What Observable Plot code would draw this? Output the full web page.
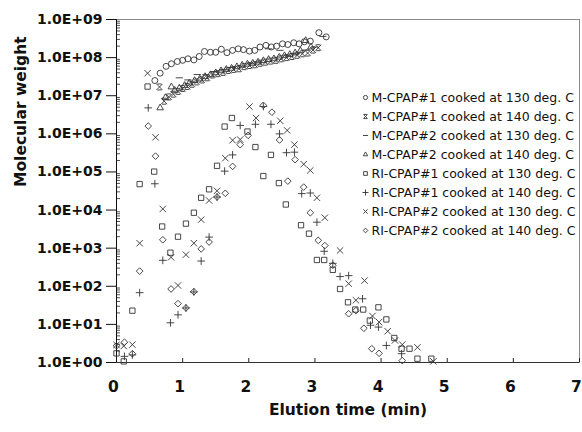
<!DOCTYPE html>
<html><head><meta charset="utf-8">
<script src="https://cdn.jsdelivr.net/npm/d3@7"></script>
<script src="https://cdn.jsdelivr.net/npm/@observablehq/plot@0.6"></script>
<style>body{margin:0;background:#fff}#chart{width:582px;height:432px}</style>
</head><body><div id="chart"></div>
<script>
// ---- tick values ----
const xTicks = [0, 1, 2, 3, 4, 5, 6, 7];
const yTicks = [1, 1e1, 1e2, 1e3, 1e4, 1e5, 1e6, 1e7, 1e8, 1e9];
const minorMultipliers = [2, 3, 4, 5, 6, 7, 8, 9];

// ---- legend labels ----
const legendLabels = [
  "M-CPAP#1 cooked at 130 deg. C",
  "M-CPAP#1 cooked at 140 deg. C",
  "M-CPAP#2 cooked at 130 deg. C",
  "M-CPAP#2 cooked at 140 deg. C",
  "RI-CPAP#1 cooked at 130 deg. C",
  "RI-CPAP#1 cooked at 140 deg. C",
  "RI-CPAP#2 cooked at 130 deg. C",
  "RI-CPAP#2 cooked at 140 deg. C"
];

// ---- series: elution time (min) and molecular weight ----
const m1_130_x = [0.58,0.66,0.75,0.83,0.92,1.00,1.08,1.17,1.25,1.33,1.42,1.50,1.585,1.67,1.755,1.84,1.92,2.01,2.09,2.17,2.26,2.34,2.42,2.51,2.59,2.68,2.76,2.84,2.93,3.06,3.17];
const m1_130_y = [2.5e7,3.9e7,5.9e7,6.9e7,7.9e7,8.5e7,9.3e7,8.7e7,1.07e8,1.45e8,1.38e8,1.38e8,1.66e8,1.35e8,1.55e8,1.7e8,1.62e8,1.48e8,1.55e8,1.9e8,2.1e8,1.9e8,2.0e8,2.3e8,2.2e8,2.45e8,2.3e8,2.6e8,2.7e8,4.5e8,3.5e8];

const m1_140_x = [0.65,0.72,0.79,0.86,0.93,1.00,1.07,1.14,1.21,1.29,1.37,1.45,1.53,1.61,1.69,1.77,1.85,1.93,2.01,2.09,2.17,2.25,2.33,2.41,2.49,2.57,2.65,2.73,2.81,2.89,2.97,3.05];
const m1_140_y = [1.7e7,7.2e6,9.3e6,1.1e7,1.3e7,1.55e7,1.75e7,2.0e7,2.3e7,2.6e7,2.95e7,3.5e7,3.8e7,4.1e7,4.6e7,4.9e7,5.1e7,5.8e7,6.2e7,6.5e7,7.1e7,7.6e7,8.1e7,8.5e7,9.3e7,1.0e8,1.07e8,1.15e8,1.26e8,1.32e8,1.58e8,1.82e8];

const m2_130_x = [0.95,1.08,1.22,1.35,1.48,1.62,1.75,1.88,2.02,2.15,2.30,2.47,2.58,2.72,2.86,3.00,3.12];
const m2_130_y = [2.95e7,2.6e7,3.6e7,3.55e7,4.3e7,4.8e7,5.5e7,6.0e7,6.9e7,7.6e7,1.7e8,1.55e8,1.15e8,1.26e8,1.58e8,1.9e8,3.6e8];

const m2_140_x = [0.66,0.74,0.83,0.88,0.95,1.03,1.10,1.18,1.26,1.34,1.42,1.50,1.58,1.66,1.74,1.82,1.90,1.98,2.06,2.14,2.22,2.30,2.38,2.46,2.54,2.62,2.70,2.78,2.86,2.94];
const m2_140_y = [4.8e6,8.9e6,1.7e7,1.38e7,1.58e7,1.86e7,2.14e7,2.5e7,2.75e7,3.16e7,3.55e7,4.0e7,4.5e7,4.9e7,5.25e7,5.75e7,6.3e7,6.75e7,7.1e7,7.6e7,8.3e7,8.9e7,9.3e7,1.02e8,1.12e8,1.2e8,1.32e8,1.51e8,2.8e8,1.9e8];

const ri1_130_x = [0.00,0.11,0.24,0.35,0.47,0.57,0.69,0.815,0.93,1.05,1.17,1.28,1.40,1.52,1.635,1.745,1.98,2.10,2.22,2.335,2.455,2.56,2.79,2.91,3.03,3.14,3.27,3.38,3.50,3.61,3.73,3.83,3.96,4.08,4.20,4.31,4.43,4.55,4.76];
const ri1_130_y = [1.74,1.07,22.9,4.8e4,1.74e7,1.02e5,3.7e3,760,2.0e3,4.4e3,8.5e3,2.1e4,3.5e4,1.45e5,1.55e6,2.6e6,1.15e6,4.5e5,7.8e4,2.8e5,5.1e4,1.4e4,4.0e3,2.4e3,490,490,270,85,38,24.5,24.5,12.6,28,13.5,4.4,2.3,2.3,1.26,1.26];

const ri1_140_x = [0.12,0.24,0.35,0.48,0.58,0.70,0.815,0.93,1.05,1.17,1.28,1.40,1.52,1.635,1.755,1.87,2.10,2.22,2.335,2.465,2.57,2.69,2.80,2.93,3.03,3.14,3.27,3.38,3.51,3.72,3.84,3.96,4.08,4.31];
const ri1_140_y = [1.45,1.58,68,4.8e6,4.9e4,480,11,17.8,27,71,460,1.95e3,2.2e4,1.05e5,2.8e5,1.66e6,1.78e6,5.2e6,1.78e6,1.0e6,3.2e5,3.3e5,2.7e4,2.8e4,4.8e3,830,400,180,190,47,9.5,8.5,2.8,1.7];

const ri2_130_x = [0.00,0.11,0.24,0.35,0.47,0.59,0.70,0.825,0.93,1.05,1.17,1.28,1.40,1.52,1.645,1.755,1.87,2.01,2.11,2.475,2.58,2.69,2.83,2.93,3.03,3.15,3.38,3.51,3.62,3.75,3.87,3.97,4.10,4.21,4.32,4.55,4.79];
const ri2_130_y = [2.9,2.7,2.95,1.35e3,3.9e7,8.1e5,1.07e4,575,105,675,1.35e3,5.6e3,1.78e4,3.2e4,2.3e5,6.8e5,7.1e5,5.2e6,2.6e6,2.2e6,1.23e6,5.2e5,1.6e5,1.1e5,2.1e4,6.3e3,870,117,43,141,16.6,11.5,6.6,3.8,2.95,2.5,1.07];

const ri2_140_x = [0.00,0.12,0.24,0.35,0.48,0.59,0.70,0.825,0.93,1.05,1.17,1.28,1.40,1.52,1.645,1.755,1.87,1.99,2.22,2.35,2.465,2.59,2.70,2.83,2.93,3.05,3.15,3.27,3.51,3.62,3.74,3.86,3.97,4.32];
const ri2_140_y = [2.75,3.4,1.7,250,1.6e6,2.6e5,1.66e3,85,35,27,72,955,1.45e3,2.2e4,2.75e4,1.4e5,5.2e5,9.1e5,5.6e6,3.7e6,6.9e5,5.75e4,2.1e5,4.0e4,8.5e3,1.6e3,1.17e3,355,19,23,7.9,2.3,1.74,1.12];

// ---- custom marker shapes ----
const symTimesBar = {draw(ctx, size) {
  const r = Math.sqrt(size / Math.PI);
  ctx.moveTo(-r, -r); ctx.lineTo(r, r);
  ctx.moveTo(r, -r); ctx.lineTo(-r, r);
  ctx.moveTo(-r * 0.7, -r); ctx.lineTo(r * 0.7, -r);
  ctx.moveTo(-r * 0.7, r); ctx.lineTo(r * 0.7, r);
}};
const symDash = {draw(ctx, size) {
  const r = Math.sqrt(size / Math.PI) * 1.2;
  ctx.moveTo(-r, 0); ctx.lineTo(r, 0);
}};

const series = [
  {x: m1_130_x, y: m1_130_y, symbol: "circle", r: 3},
  {x: m1_140_x, y: m1_140_y, symbol: symTimesBar, r: 3},
  {x: m2_130_x, y: m2_130_y, symbol: symDash, r: 3},
  {x: m2_140_x, y: m2_140_y, symbol: "triangle2", r: 3.2},
  {x: ri1_130_x, y: ri1_130_y, symbol: "square", r: 3},
  {x: ri1_140_x, y: ri1_140_y, symbol: "plus", r: 2.6},
  {x: ri2_130_x, y: ri2_130_y, symbol: "times", r: 3},
  {x: ri2_140_x, y: ri2_140_y, symbol: "diamond2", r: 3}
];

const minorTicks = yTicks.slice(0, -1).flatMap(p => minorMultipliers.map(m => m * p));
const fmtY = d => "1.0E+" + String(Math.round(Math.log10(d))).padStart(2, "0");
const fmtX = d => String(d);

const marks = [
  Plot.frame({stroke: "#8a8a8a"}),
  Plot.tickY(minorTicks, {y: d => d, insetRight: 459, stroke: "#222", strokeWidth: 0.8}),
  Plot.tickX(xTicks, {x: d => d, insetTop: 339, stroke: "#222"}),
  Plot.axisY({ticks: yTicks, tickFormat: fmtY, tickSize: 10, tickPadding: 4, fontSize: 14, label: null}),
  Plot.axisX({ticks: xTicks, tickFormat: fmtX, tickSize: 0, tickPadding: 18, fontSize: 15.5, label: null, dx: -3}),
  Plot.ruleX([0], {stroke: "#111"}),
  Plot.ruleY([1], {stroke: "#333"})
];

series.forEach(s => {
  marks.push(Plot.dot(s.x, {x: s.x, y: s.y, symbol: s.symbol, r: s.r, stroke: "#333", fill: "none", strokeWidth: 0.9}));
});

legendLabels.forEach((lab, i) => {
  marks.push(Plot.dot([lab], {frameAnchor: "top-left", dx: 249, dy: 78 + 19 * i, symbol: series[i].symbol, r: 2.1, stroke: "#333", fill: "none", strokeWidth: 0.9}));
  marks.push(Plot.text([lab], {frameAnchor: "top-left", dx: 255, dy: 78 + 19 * i, text: d => d, textAnchor: "start", lineAnchor: "middle", fontSize: 12.5, fontWeight: "normal", fill: "#111"}));
});

marks.push(Plot.text(["Molecular weight"], {frameAnchor: "left", dx: -95, dy: -4, rotate: -90, text: d => d, fontSize: 15.5, fontWeight: "bold", lineAnchor: "middle"}));
marks.push(Plot.text(["Elution time (min)"], {frameAnchor: "bottom", dy: 48, text: d => d, fontSize: 15.5, fontWeight: "bold", lineAnchor: "middle"}));

const chart = Plot.plot({
  width: 582,
  height: 432,
  marginLeft: 116,
  marginRight: 3,
  marginTop: 19,
  marginBottom: 70,
  style: {fontFamily: "'DejaVu Sans', sans-serif", fontWeight: "bold", background: "#fff", color: "#111", overflow: "visible"},
  x: {domain: [0, 7]},
  y: {type: "log", domain: [1, 1e9]},
  marks
});
document.getElementById("chart").appendChild(chart);
</script>
</body></html>
